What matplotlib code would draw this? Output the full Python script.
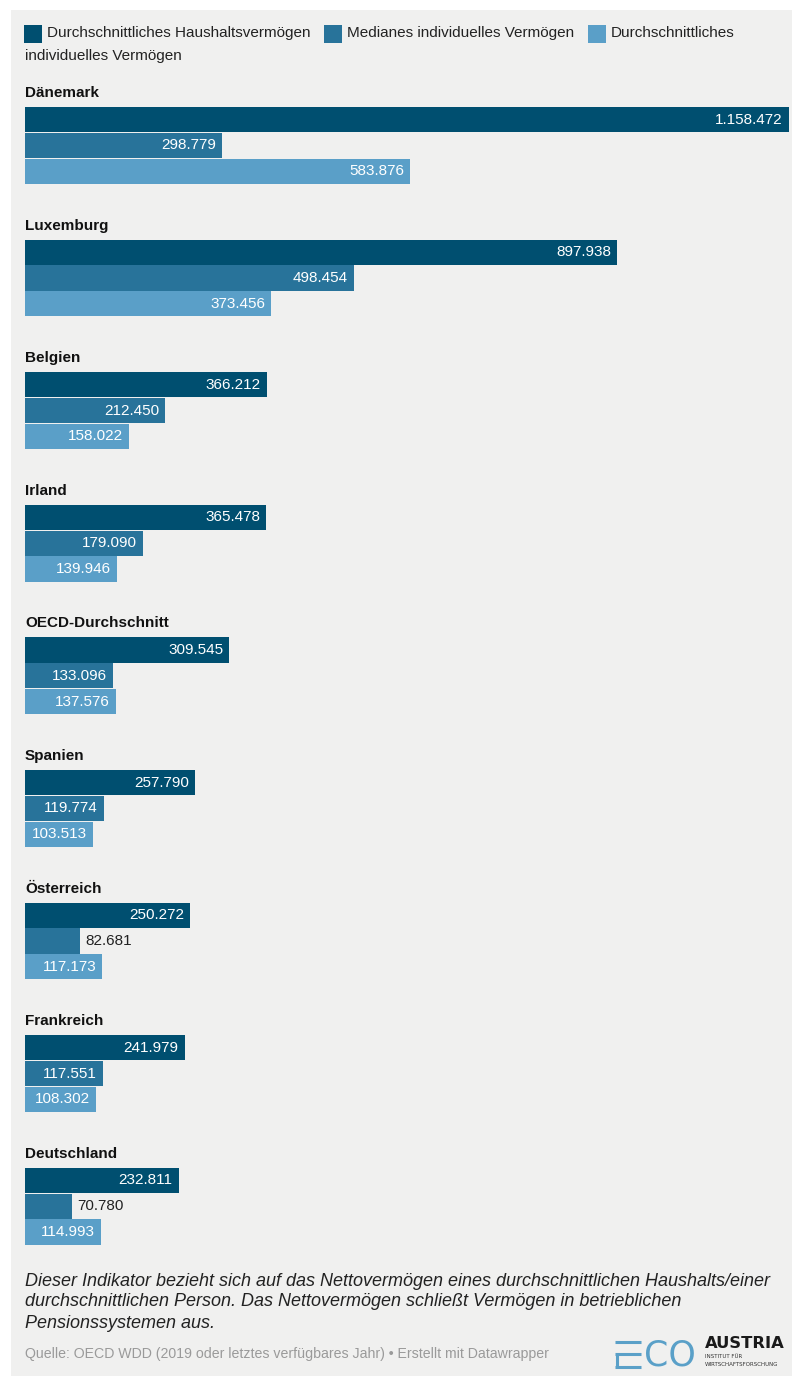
import matplotlib
matplotlib.use("Agg")
import matplotlib.pyplot as plt
from matplotlib.patches import Rectangle
from matplotlib.lines import Line2D

plt.rcParams['font.family'] = ['Liberation Sans', 'DejaVu Sans']

# net wealth per country (USD, PPP)
countries = ["Dänemark", "Luxemburg", "Belgien", "Irland", "OECD-Durchschnitt",
             "Spanien", "Österreich", "Frankreich", "Deutschland"]
household_mean = [1158472, 897938, 366212, 365478, 309545, 257790, 250272, 241979, 232811]
individual_median = [298779, 498454, 212450, 179090, 133096, 119774, 82681, 117551, 70780]
individual_mean = [583876, 373456, 158022, 139946, 137576, 103513, 117173, 108302, 114993]

series_names = ["Durchschnittliches Haushaltsvermögen",
                "Medianes individuelles Vermögen",
                "Durchschnittliches"]
series_colors = ["#004f70", "#28739a", "#5a9fc8"]

note_lines = ["Dieser Indikator bezieht sich auf das Nettovermögen eines durchschnittlichen Haushalts/einer",
              "durchschnittlichen Person. Das Nettovermögen schließt Vermögen in betrieblichen",
              "Pensionssystemen aus."]
source = "Quelle: OECD WDD (2019 oder letztes verfügbares Jahr) • Erstellt mit Datawrapper"

W, H = 792, 1376
BG = "#f0f0ef"

fig = plt.figure(figsize=(W / 100, H / 100), dpi=100, facecolor="white")


def fx(x):
    return x / W


def fy(y):
    return 1 - y / H


# grey card behind everything
fig.patches.append(Rectangle((fx(11), 0), 1 - fx(11), fy(10), transform=fig.transFigure,
                             facecolor=BG, edgecolor="none", zorder=-5))

# legend
leg_x = [24, 324, 588]
for lx, txt, col in zip(leg_x, series_names, series_colors):
    fig.patches.append(Rectangle((fx(lx), fy(43)), 18 / W, 18 / H, transform=fig.transFigure,
                                 facecolor=col, edgecolor="none", zorder=2))
    fig.text(fx(lx + 23), fy(33), txt, fontsize=11, color="#222222", va="center", ha="left")
fig.text(fx(25), fy(56), "individuelles Vermögen", fontsize=11, color="#222222",
         va="center", ha="left")

# bars
x0, x1 = 25, 789
top, bottom = 80, 1260
ax = fig.add_axes([fx(x0), fy(bottom), (x1 - x0) / W, (bottom - top) / H])
ax.set_facecolor("none")
ax.set_xlim(0, max(household_mean))
ax.set_ylim(bottom, top)
ax.set_axis_off()

px_per_unit = (x1 - x0) / max(household_mean)
group_pitch = 132.6
bar_pitch = 25.8
bar_h = 25.2
val_fs = 11

for g, name in enumerate(countries):
    gy = 107 + g * group_pitch
    ax.text(0, gy - 14, name, fontsize=11, fontweight="bold", color="#111111",
            va="center", ha="left")
    vals = [household_mean[g], individual_median[g], individual_mean[g]]
    for k, (v, col) in enumerate(zip(vals, series_colors)):
        yc = gy + k * bar_pitch + bar_h / 2
        ax.barh(yc, v, height=bar_h, color=col, edgecolor="none")
        label = f"{v:,}".replace(",", ".")
        width_px = v * px_per_unit
        digits = sum(c.isdigit() for c in label)
        text_px = (digits * 0.556 + label.count(".") * 0.278) * val_fs * 1.39
        if width_px > text_px + 12:
            ax.text(v - 6 / px_per_unit, yc, label, fontsize=val_fs, color="white",
                    va="center", ha="right")
        else:
            ax.text(v + 6 / px_per_unit, yc, label, fontsize=val_fs, color="#222222",
                    va="center", ha="left")

# notes
for i, line in enumerate(note_lines):
    fig.text(fx(25), fy(1281 + i * 21), line, fontsize=13, style="italic", color="#222222",
             va="center", ha="left")
fig.text(fx(25), fy(1354), source, fontsize=10.2, color="#9a9a9a", va="center", ha="left")

# ECO Austria logo
logo_blue = "#5aa0c8"
for (xa, ya, xb, yb) in [(615, 1341.5, 641, 1341.5), (615, 1354, 641, 1354),
                         (616.5, 1354, 616.5, 1366.5), (615, 1366.5, 641, 1366.5)]:
    fig.lines.append(Line2D([fx(xa), fx(xb)], [fy(ya), fy(yb)], transform=fig.transFigure,
                            color=logo_blue, lw=2.2, solid_capstyle="butt"))
fig.text(fx(644), fy(1355), "CO", fontsize=25, color=logo_blue, va="center", ha="left",
         family="DejaVu Sans", fontweight="normal")
fig.text(fx(705), fy(1343), "AUSTRIA", fontsize=11.8, fontweight="bold", color="#1a1a1a",
         va="center", ha="left", family="DejaVu Sans")
fig.text(fx(705), fy(1357), "INSTITUT FÜR", fontsize=4, color="#333333",
         va="center", ha="left", family="DejaVu Sans")
fig.text(fx(705), fy(1364), "WIRTSCHAFTSFORSCHUNG", fontsize=4, color="#333333",
         va="center", ha="left", family="DejaVu Sans")

fig.savefig("out.png", dpi=100, facecolor=fig.get_facecolor())
